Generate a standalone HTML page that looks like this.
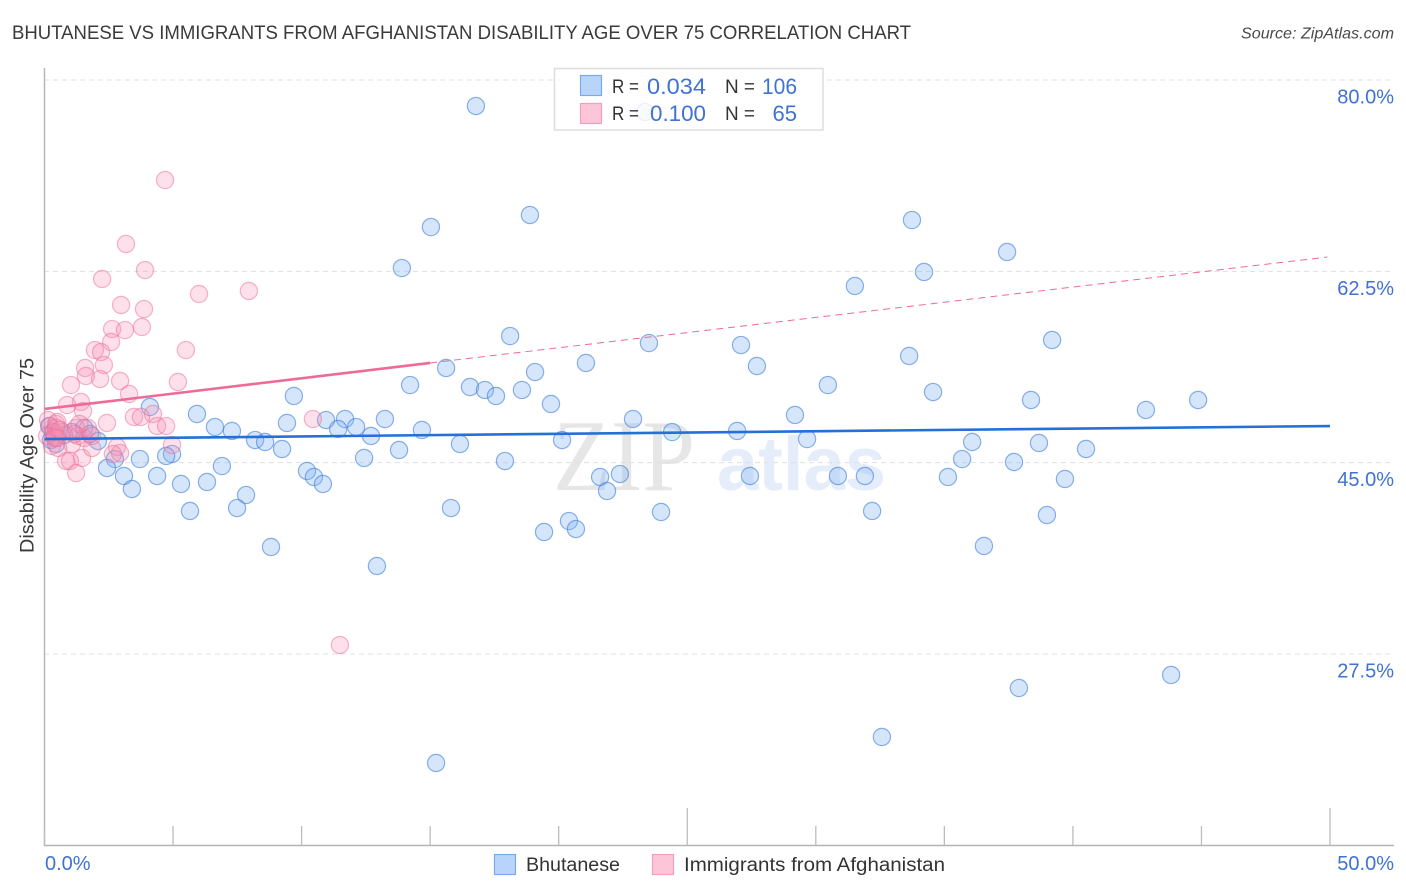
<!DOCTYPE html>
<html lang="en">
<head>
<meta charset="utf-8">
<title>Bhutanese vs Immigrants from Afghanistan Disability Age Over 75 Correlation Chart</title>
<style>
html,body{margin:0;padding:0;background:#fff;width:1406px;height:892px;overflow:hidden}
svg{display:block;font-family:"Liberation Sans",sans-serif}
</style>
</head>
<body>
<svg id="chart" xmlns="http://www.w3.org/2000/svg" width="1406" height="892" viewBox="0 0 1406 892">
  <rect width="1406" height="892" fill="#fff"/>
  <text x="12" y="39" font-size="19" fill="#3a3a3a" textLength="899" lengthAdjust="spacingAndGlyphs">BHUTANESE VS IMMIGRANTS FROM AFGHANISTAN DISABILITY AGE OVER 75 CORRELATION CHART</text>
  <text x="1394" y="38.5" font-size="16" font-style="italic" fill="#4a4a4a" text-anchor="end" textLength="153" lengthAdjust="spacingAndGlyphs">Source: ZipAtlas.com</text>
  <g>
    <text x="553" y="490" font-family="'Liberation Serif',serif" font-size="102" fill="#e6e6e6" textLength="142" lengthAdjust="spacingAndGlyphs">ZIP</text>
    <text x="717" y="490" font-size="76" font-weight="700" fill="#e5edfa" textLength="169" lengthAdjust="spacingAndGlyphs">atlas</text>
  </g>
  <g id="grid"></g>
  <g id="axes">
    <line x1="44.5" y1="68" x2="44.5" y2="846" stroke="#b4b4b4" stroke-width="1.4"/>
    <line x1="44" y1="845.5" x2="1394" y2="845.5" stroke="#b4b4b4" stroke-width="1.4"/>
  </g>
  <g id="blue-points"></g>
  <g id="pink-points"></g>
  <g id="trends"></g>
  <g id="labels"></g>
  <text transform="translate(33.5,455.5) rotate(-90)" font-size="19" fill="#3a3a3a" text-anchor="middle" textLength="195" lengthAdjust="spacingAndGlyphs">Disability Age Over 75</text>

  <g>
    <rect x="554.5" y="68.5" width="268.5" height="61.5" fill="#fff" fill-opacity="0.82" stroke="#dedede" stroke-width="1.5"/>
    <rect x="580.5" y="75.5" width="21" height="20" fill="#b9d4fa" stroke="#7aa9e8" stroke-width="1.2"/>
    <rect x="580.5" y="103.5" width="21" height="20" fill="#fcc6d8" stroke="#f0a0bc" stroke-width="1.2"/>
    <text x="612" y="93" font-size="19" fill="#333" textLength="27" lengthAdjust="spacingAndGlyphs">R =</text>
    <text x="647" y="94" font-size="22" fill="#3f72d4" textLength="59" lengthAdjust="spacingAndGlyphs">0.034</text>
    <text x="725" y="93" font-size="19" fill="#333" textLength="30" lengthAdjust="spacingAndGlyphs">N =</text>
    <text x="762" y="94" font-size="22" fill="#3f72d4" textLength="35" lengthAdjust="spacingAndGlyphs">106</text>
    <text x="612" y="120" font-size="19" fill="#333" textLength="27" lengthAdjust="spacingAndGlyphs">R =</text>
    <text x="650" y="121" font-size="22" fill="#3f72d4" textLength="56" lengthAdjust="spacingAndGlyphs">0.100</text>
    <text x="725" y="120" font-size="19" fill="#333" textLength="30" lengthAdjust="spacingAndGlyphs">N =</text>
    <text x="797" y="121" font-size="22" fill="#3f72d4" text-anchor="end">65</text>
  </g>

  <g>
    <rect x="494.5" y="854.5" width="21" height="20" fill="#b9d4fa" stroke="#7aa9e8" stroke-width="1.2"/>
    <text x="526" y="871" font-size="19" fill="#333" textLength="94" lengthAdjust="spacingAndGlyphs">Bhutanese</text>
    <rect x="652.5" y="854.5" width="21" height="20" fill="#fcc6d8" stroke="#f0a0bc" stroke-width="1.2"/>
    <text x="684" y="871" font-size="19" fill="#333" textLength="261" lengthAdjust="spacingAndGlyphs">Immigrants from Afghanistan</text>
  </g>
</svg>
<script>
const yTickValues = [80, 62.5, 45, 27.5];
const yTickLabels = ["80.0%", "62.5%", "45.0%", "27.5%"];
const xTickValues = [0, 5, 10, 15, 20, 25, 30, 35, 40, 45, 50];
const xMajorTicks = [25, 50];
const xEndValues = [0, 50];
const xEndLabels = ["0.0%", "50.0%"];

const blueX = [16.78,23.36,18.88,15.03,33.74,37.44,13.90,34.21,31.52,18.11,39.19,23.51,27.09,33.63,21.06,27.71,15.62,19.08,14.22,16.55,17.13,18.57,17.56,30.47,34.56,9.70,19.70,38.37,44.87,42.84,4.10,5.93,29.19,22.89,11.69,10.95,13.24,9.43,6.63,7.29,11.42,12.12,14.68,26.94,24.41,12.70,8.19,8.58,20.13,29.66,16.16,36.08,38.68,9.24,13.79,40.51,2.08,4.96,4.73,3.71,2.74,12.43,17.91,35.69,37.71,2.43,6.90,10.21,10.48,10.83,3.09,4.38,5.31,6.32,3.40,7.84,21.61,22.38,21.88,27.44,30.86,31.91,35.14,39.69,5.66,7.49,15.81,23.98,32.19,38.99,20.40,20.67,19.43,8.81,36.54,12.93,43.82,37.90,32.57,15.23,0.18,0.25,0.45,0.33,0.76,1.07,1.54,1.77];
const blueY = [77.62,77.07,67.65,66.55,67.19,64.27,62.80,62.44,61.16,56.58,56.22,55.94,55.76,54.76,54.12,53.84,53.66,53.29,52.10,51.92,51.65,51.65,51.10,52.10,51.46,51.10,50.37,50.73,50.73,49.82,50.09,49.45,49.36,48.99,48.99,48.90,48.99,48.63,48.26,47.90,48.08,48.26,47.99,47.90,47.80,47.44,47.07,46.89,47.07,47.16,46.71,46.89,46.80,46.25,46.16,46.25,46.98,45.79,45.61,45.33,45.33,45.43,45.15,45.33,45.06,44.51,44.69,44.24,43.69,43.05,43.78,43.78,43.05,43.23,42.59,42.04,43.69,43.96,42.41,43.78,43.78,43.78,43.69,43.51,40.58,40.85,40.85,40.49,40.58,40.21,39.66,38.93,38.66,37.29,37.38,35.55,25.58,24.39,19.91,17.53,48.35,47.07,46.71,47.80,47.53,47.80,48.17,47.62];

const pinkX = [4.69,3.17,3.91,2.24,6.01,7.95,2.98,3.87,3.79,2.63,3.13,2.59,1.96,5.50,2.20,2.31,1.58,1.61,2.16,2.94,5.19,1.03,3.29,0.88,1.42,1.50,4.22,3.48,3.75,2.43,4.38,4.73,11.49,10.44,4.96,2.82,2.94,2.66,1.46,0.84,0.99,1.23,1.85,1.07,0.14,0.21,0.37,0.10,0.45,0.40,0.29,0.53,0.50,0.70,1.23,1.30,1.54,1.69,1.85,0.45,0.50,1.36,0.41,0.60,1.15];
const pinkY = [70.85,65.00,62.62,61.80,60.43,60.70,59.42,59.05,57.41,57.22,57.13,56.04,55.30,55.30,55.12,53.93,53.66,52.93,52.65,52.47,52.38,52.10,51.28,50.27,50.55,49.72,49.45,49.18,49.18,48.63,48.35,48.35,28.32,48.99,46.62,46.43,45.88,45.79,45.43,45.15,45.15,44.05,46.34,46.71,48.90,48.35,47.80,47.44,48.54,47.44,46.53,46.34,48.72,47.80,48.17,47.44,47.26,48.17,47.44,48.17,47.26,48.54,47.26,47.99,47.62];

const blueTrendX = [0, 50];
const blueTrendY = [47.16, 48.35];
const pinkSolidX = [0, 15];
const pinkSolidY = [49.91, 54.12];
const pinkDashX = [15, 49.9];
const pinkDashY = [54.12, 63.81];

const NS = "http://www.w3.org/2000/svg";
const xAxis = function (v) { return 44.5 + v * 25.71; };
const yAxis = function (v) { return 80 + (80 - v) * 10.933; };
const mk = function (tag, parentId) {
  const el = document.createElementNS(NS, tag);
  document.getElementById(parentId).appendChild(el);
  return el;
};

yTickValues.forEach(function (v, i) {
  const g = mk("line", "grid");
  
  
  g.setAttribute("x1", 44);
  g.setAttribute("x2", 1394);
  g.setAttribute("y1", yAxis(v));
  g.setAttribute("y2", yAxis(v));
  g.setAttribute("stroke", "#e0e0e0");
  g.setAttribute("stroke-width", "1");
  g.setAttribute("stroke-dasharray", "5 4");

  const t = mk("text", "labels");
  
  
  t.setAttribute("x", 1394);
  t.setAttribute("y", yAxis(v) + 23.5);
  t.setAttribute("font-size", "20");
  t.setAttribute("fill", "#3f72d4");
  t.setAttribute("text-anchor", "end");
  t.textContent = yTickLabels[i];
});

xTickValues.forEach(function (v) {
  const tick = mk("line", "axes");
  
  
  tick.setAttribute("x1", xAxis(v));
  tick.setAttribute("x2", xAxis(v));
  tick.setAttribute("y1", xMajorTicks.includes(v) ? 808 : 826);
  tick.setAttribute("y2", 845.5);
  tick.setAttribute("stroke", "#bcbcbc");
  tick.setAttribute("stroke-width", "1.3");
});

xEndValues.forEach(function (v, i) {
  const t = mk("text", "labels");
  
  
  t.setAttribute("x", i === 0 ? xAxis(v) + 0.5 : 1394);
  t.setAttribute("y", 870);
  t.setAttribute("font-size", "20");
  t.setAttribute("fill", "#3f72d4");
  t.setAttribute("text-anchor", i === 0 ? "start" : "end");
  t.textContent = xEndLabels[i];
});

blueX.forEach(function (v, i) {
  const c = mk("circle", "blue-points");
  
  
  c.setAttribute("cx", xAxis(v));
  c.setAttribute("cy", yAxis(blueY[i]));
  c.setAttribute("r", 8.6);
  c.setAttribute("fill", "#7fb0f0");
  c.setAttribute("fill-opacity", "0.32");
  c.setAttribute("stroke", "#3d7fdc");
  c.setAttribute("stroke-opacity", "0.6");
  c.setAttribute("stroke-width", "1.2");
});

pinkX.forEach(function (v, i) {
  const c = mk("circle", "pink-points");
  
  
  c.setAttribute("cx", xAxis(v));
  c.setAttribute("cy", yAxis(pinkY[i]));
  c.setAttribute("r", 8.6);
  c.setAttribute("fill", "#f78fb0");
  c.setAttribute("fill-opacity", "0.28");
  c.setAttribute("stroke", "#ec6c98");
  c.setAttribute("stroke-opacity", "0.5");
  c.setAttribute("stroke-width", "1.2");
});

const drawTrend = function (xs, ys, color, width, dash) {
  const l = mk("line", "trends");
  l.setAttribute("x1", xAxis(xs[0]));
  l.setAttribute("y1", yAxis(ys[0]));
  l.setAttribute("x2", xAxis(xs[1]));
  l.setAttribute("y2", yAxis(ys[1]));
  l.setAttribute("stroke", color);
  l.setAttribute("stroke-width", width);
  if (dash) { l.setAttribute("stroke-dasharray", dash); }
  return l;
};
const trendBlue = drawTrend(blueTrendX, blueTrendY, "#2470d8", 2.6, null);


const trendPink = drawTrend(pinkSolidX, pinkSolidY, "#ee6a98", 2.6, null);


const trendPinkDash = drawTrend(pinkDashX, pinkDashY, "#ee6a98", 1, "7 5");


</script>
</body>
</html>
